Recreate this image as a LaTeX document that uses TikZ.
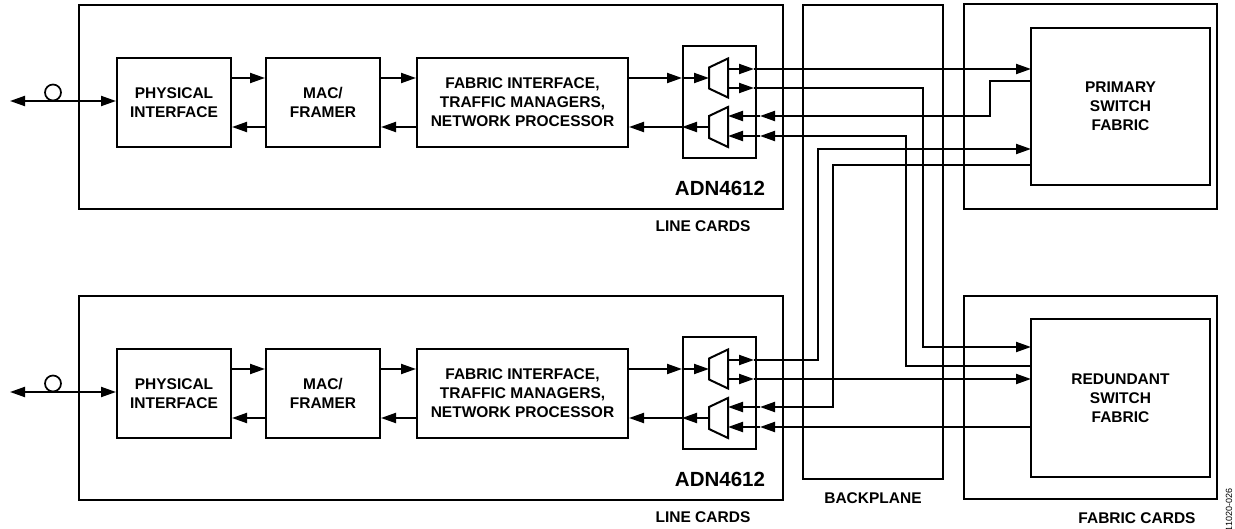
\documentclass[tikz,border=0pt]{standalone}
\usepackage{fontspec}
\setmainfont{Liberation Sans}
\usetikzlibrary{arrows.meta}
\begin{document}
\begin{tikzpicture}[x=1pt,y=-1pt,line width=2pt,
  arw/.style={-{Triangle[length=15pt,width=10pt]}},
  darw/.style={{Triangle[length=15pt,width=10pt]}-{Triangle[length=15pt,width=10pt]}},
  box/.style={draw,line width=2pt,inner sep=0pt},
  blk/.style={box,font=\fontsize{15.5}{19}\selectfont\bfseries,align=center},
  lbl/.style={font=\fontsize{15.5}{19}\selectfont\bfseries,inner sep=0pt},
  big/.style={font=\fontsize{20.5}{24}\selectfont\bfseries,inner sep=0pt}]
\useasboundingbox (0,0) rectangle (1235,529);

\foreach \o/\sfx in {0/a,291/b}{
 \begin{scope}[yshift=-\o pt]
  \node[box,minimum width=704,minimum height=204] (lc\sfx) at (431,107) {};
  \node[blk,minimum width=114,minimum height=89] (phys\sfx) at (174,102.5) {PHYSICAL\\INTERFACE};
  \node[blk,minimum width=114,minimum height=89] (mac\sfx) at (323,102.5) {MAC/\\FRAMER};
  \node[blk,minimum width=211,minimum height=89] (fab\sfx) at (522.5,102.5) {FABRIC INTERFACE,\\TRAFFIC MANAGERS,\\NETWORK PROCESSOR};
  \node[box,minimum width=73,minimum height=112] (mb\sfx) at (719.5,102) {};
  \draw (709,67.5) -- (728,58.5) -- (728,97.5) -- (709,88.5) -- cycle;
  \draw (709,116) -- (728,107) -- (728,147) -- (709,138) -- cycle;
  \coordinate (ya\sfx) at (0,78);
  \coordinate (yb\sfx) at (0,127);
  \coordinate (di\sfx) at (709,78);
  \coordinate (do1\sfx) at (728,69);
  \coordinate (do2\sfx) at (728,88);
  \coordinate (mo\sfx) at (709,127);
  \coordinate (mi1\sfx) at (728,116);
  \coordinate (mi2\sfx) at (728,136);
  \coordinate (to1\sfx) at (754,69);
  \coordinate (to2\sfx) at (754,88);
  \coordinate (ti1\sfx) at (760,116);
  \coordinate (ti2\sfx) at (760,136);
  \coordinate (io\sfx) at (10,101);
  \draw[arw] (phys\sfx.east |- ya\sfx) -- (mac\sfx.west |- ya\sfx);
  \draw[arw] (mac\sfx.east |- ya\sfx) -- (fab\sfx.west |- ya\sfx);
  \draw[arw] (fab\sfx.east |- ya\sfx) -- (mb\sfx.west |- ya\sfx);
  \draw[arw] (mb\sfx.west |- ya\sfx) -- (di\sfx);
  \draw[arw] (mo\sfx) -- (mb\sfx.west |- yb\sfx);
  \draw[arw] (mb\sfx.west |- yb\sfx) -- (fab\sfx.east |- yb\sfx);
  \draw[arw] (fab\sfx.west |- yb\sfx) -- (mac\sfx.east |- yb\sfx);
  \draw[arw] (mac\sfx.west |- yb\sfx) -- (phys\sfx.east |- yb\sfx);
  \draw[darw] (io\sfx) -- (phys\sfx.west |- io\sfx);
  \node[draw,circle,minimum size=16,inner sep=0pt,line width=1.7pt] (c\sfx) at (53,92.5) {};
  \node[big] (adn\sfx) at (720,188) {ADN4612};
  \node[lbl] (lcl\sfx) at (703,226) {LINE CARDS};
 \end{scope}
}

\node[box,minimum width=140,minimum height=474] (bp) at (873,242) {};
\node[box,minimum width=253,minimum height=205] (fc1) at (1090.5,106.5) {};
\node[box,minimum width=253,minimum height=203] (fc2) at (1090.5,397.5) {};
\node[blk,minimum width=179,minimum height=157] (prim) at (1120.5,106.5) {PRIMARY\\SWITCH\\FABRIC};
\node[blk,minimum width=179,minimum height=158] (red) at (1120.5,398) {REDUNDANT\\SWITCH\\FABRIC};

\coordinate (P1) at (1031,69);
\coordinate (P2) at (1031,81);
\coordinate (P3) at (1031,149);
\coordinate (P4) at (1031,165);
\coordinate (R1) at (1031,347);
\coordinate (R2) at (1031,366);
\coordinate (R3) at (1031,379);
\coordinate (R4) at (1031,427);

% top line card
\draw[arw] (do1a) -- (to1a);
\draw[arw] (to1a) -- (P1);
\draw[arw] (do2a) -- (to2a);
\draw[arw] (to2a) -- (923,88) -- (923,347) -- (R1);
\draw[arw] (P2) -- (990,81) -- (990,116) -- (ti1a);
\draw[arw] (ti1a) -- (mi1a);
\draw[arw] (R2) -- (906,366) -- (906,136) -- (ti2a);
\draw[arw] (ti2a) -- (mi2a);
% bottom line card
\draw[arw] (do1b) -- (to1b);
\draw[arw] (to1b) -- (817.7,360) -- (817.7,149) -- (P3);
\draw[arw] (do2b) -- (to2b);
\draw[arw] (to2b) -- (R3);
\draw[arw] (P4) -- (832.7,165) -- (832.7,407) -- (ti1b);
\draw[arw] (ti1b) -- (mi1b);
\draw[arw] (R4) -- (ti2b);
\draw[arw] (ti2b) -- (mi2b);

\node[lbl] (bpl) at (873,498) {BACKPLANE};
\node[lbl] (fcl) at (1137,518) {FABRIC CARDS};
\node[font=\fontsize{9}{10}\selectfont,inner sep=0pt,rotate=90] (fig) at (1229,510) {11020-026};
\end{tikzpicture}
\end{document}
